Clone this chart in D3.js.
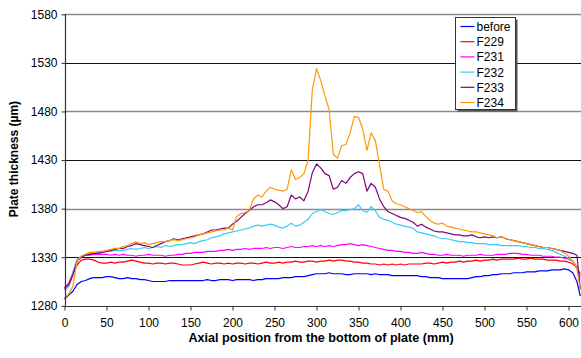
<!DOCTYPE html>
<html>
<head>
<meta charset="utf-8">
<script src="https://cdn.jsdelivr.net/npm/d3@7"></script>
<style>
  html, body { margin: 0; padding: 0; background: #fff; }
  svg { display: block; font-family: Arial, "Liberation Sans", sans-serif; }
</style>
</head>
<body>
<svg id="chart" width="581" height="358"></svg>
<script>
// Axial positions (mm) where the plate thickness was sampled
const positions = [
  0,5,10,15,20,25,30,35,40,45,50,55,60,65,70,75,80,85,90,95,
  100,105,110,115,120,125,130,135,140,145,150,155,160,165,170,175,180,185,190,195,
  200,205,210,215,220,225,230,235,240,245,250,255,260,265,270,275,280,285,290,295,
  300,305,310,315,320,325,330,335,340,345,350,355,360,365,370,375,380,385,390,395,
  400,405,410,415,420,425,430,435,440,445,450,455,460,465,470,475,480,485,490,495,
  500,505,510,515,520,525,530,535,540,545,550,555,560,565,570,575,580,585,590,595,
  600,605,610,614
];

const seriesNames = ["before", "F229", "F231", "F232", "F233", "F234"];
const seriesColors = ["#0000ff", "#ff0000", "#ff00ff", "#33ccff", "#800080", "#ff9900"];

const before = [
  1287,1291,1295,1302,1305,1306,1308,1309,1309,1309,1310,1310,1309,1308,1308,1309,1308,1308,1307,1307,
  1306,1305,1305,1305,1305,1306,1306,1306,1306,1306,1306,1306,1306,1306,1307,1306,1306,1307,1307,1307,
  1306,1307,1307,1307,1307,1306,1307,1307,1308,1308,1308,1308,1309,1309,1309,1310,1310,1310,1311,1312,
  1313,1313,1313,1314,1313,1313,1313,1312,1312,1313,1313,1313,1313,1312,1313,1312,1312,1312,1311,1311,
  1311,1311,1311,1311,1311,1310,1310,1309,1309,1309,1308,1308,1308,1308,1308,1308,1308,1309,1310,1310,
  1311,1311,1312,1312,1313,1313,1313,1314,1314,1314,1315,1315,1315,1316,1316,1316,1317,1317,1317,1318,
  1317,1314,1305,1290
];
const f229 = [
  1298,1303,1314,1322,1327,1328,1328,1327,1325,1324,1324,1325,1324,1325,1325,1326,1327,1326,1325,1324,
  1324,1323,1324,1324,1323,1324,1324,1323,1322,1322,1322,1323,1324,1325,1324,1323,1324,1324,1323,1324,
  1323,1324,1324,1323,1324,1324,1323,1324,1325,1324,1324,1325,1324,1325,1325,1326,1325,1325,1326,1326,
  1325,1326,1326,1327,1326,1327,1327,1326,1326,1325,1325,1324,1324,1323,1323,1322,1323,1322,1323,1322,
  1323,1322,1323,1323,1323,1323,1324,1324,1323,1324,1325,1324,1325,1325,1326,1325,1326,1326,1327,1326,
  1327,1327,1328,1327,1328,1328,1328,1328,1329,1328,1328,1329,1328,1328,1328,1327,1327,1327,1326,1326,
  1325,1323,1319,1313
];
const f231 = [
  1297,1300,1312,1326,1331,1332,1332,1333,1333,1333,1333,1332,1333,1332,1333,1332,1332,1331,1332,1332,
  1333,1332,1332,1332,1331,1332,1332,1333,1333,1334,1334,1335,1335,1335,1336,1336,1336,1337,1337,1338,
  1337,1338,1338,1339,1338,1339,1339,1339,1340,1339,1340,1340,1339,1340,1341,1340,1340,1341,1341,1342,
  1341,1342,1341,1342,1341,1342,1343,1343,1344,1343,1342,1343,1342,1341,1340,1339,1338,1337,1337,1336,
  1336,1335,1335,1334,1334,1335,1334,1333,1333,1332,1332,1333,1332,1332,1332,1331,1332,1332,1332,1333,
  1332,1332,1332,1333,1333,1333,1334,1334,1334,1333,1333,1332,1332,1332,1331,1331,1331,1330,1330,1329,
  1328,1326,1320,1310
];
const f232 = [
  1296,1300,1315,1328,1331,1333,1334,1334,1335,1335,1336,1336,1337,1337,1337,1338,1339,1338,1339,1340,
  1339,1340,1341,1340,1342,1341,1342,1343,1343,1344,1345,1344,1346,1347,1348,1350,1351,1352,1354,1355,
  1356,1357,1358,1359,1360,1362,1363,1362,1363,1364,1363,1361,1360,1362,1365,1362,1363,1366,1369,1375,
  1377,1379,1377,1375,1374,1376,1378,1378,1379,1380,1384,1378,1376,1382,1378,1371,1369,1368,1366,1364,
  1363,1362,1361,1360,1356,1355,1354,1353,1352,1350,1349,1349,1348,1347,1346,1346,1345,1345,1344,1344,
  1344,1343,1343,1343,1342,1342,1342,1342,1342,1341,1341,1340,1340,1339,1339,1338,1337,1335,1333,1331,
  1329,1326,1318,1306
];
const f233 = [
  1299,1302,1312,1326,1330,1332,1333,1334,1334,1335,1336,1337,1338,1339,1339,1341,1342,1344,1343,1342,
  1341,1340,1342,1344,1346,1347,1349,1348,1349,1350,1351,1352,1353,1354,1356,1358,1358,1359,1360,1360,
  1364,1367,1371,1375,1378,1382,1384,1384,1386,1389,1387,1384,1380,1382,1394,1390,1392,1388,1398,1417,
  1426,1422,1416,1414,1400,1402,1409,1406,1412,1416,1418,1416,1398,1406,1402,1390,1382,1377,1375,1373,
  1371,1370,1368,1366,1362,1364,1361,1359,1357,1356,1356,1355,1354,1353,1353,1352,1352,1353,1351,1350,
  1351,1350,1351,1350,1351,1349,1348,1347,1346,1345,1344,1343,1342,1341,1340,1340,1339,1338,1337,1336,
  1335,1334,1332,1297
];
const f234 = [
  1288,1292,1300,1326,1331,1333,1335,1335,1336,1336,1337,1338,1339,1339,1341,1342,1344,1346,1344,1345,
  1343,1344,1345,1346,1346,1347,1348,1347,1348,1349,1350,1351,1353,1354,1355,1356,1357,1358,1358,1360,
  1358,1372,1375,1376,1378,1390,1394,1392,1398,1402,1400,1399,1398,1400,1420,1410,1412,1416,1430,1502,
  1524,1512,1496,1482,1436,1432,1445,1446,1458,1475,1474,1462,1440,1458,1450,1425,1400,1398,1388,1385,
  1384,1382,1380,1378,1376,1377,1372,1368,1365,1364,1365,1362,1361,1360,1359,1358,1357,1356,1356,1355,
  1354,1353,1352,1350,1351,1349,1348,1347,1346,1345,1344,1343,1342,1341,1340,1340,1339,1338,1337,1334,
  1331,1326,1318,1296
];

const yTicks = [1280, 1330, 1380, 1430, 1480, 1530, 1580];
const xTicks = [0, 50, 100, 150, 200, 250, 300, 350, 400, 450, 500, 550, 600];

const allSeries = [before, f229, f231, f232, f233, f234];

const svg = d3.select("#chart");
const plotLeft = 64.5, plotRight = 580.3, plotTop = 14.3, plotBottom = 305.8;

const x = d3.scaleLinear().domain([0, 614]).range([plotLeft, plotRight]);
const y = d3.scaleLinear().domain([1280, 1580]).range([plotBottom, plotTop]);

// horizontal gridlines
svg.append("g").selectAll("line")
  .data(yTicks.slice(1))
  .join("line")
  .attr("x1", plotLeft).attr("x2", plotRight + 1)
  .attr("y1", d => Math.round(y(d)) + 0.5).attr("y2", d => Math.round(y(d)) + 0.5)
  .attr("stroke", (d, i) => i % 2 === 0 ? "#111" : "#8a8a8a")
  .attr("stroke-width", (d, i) => i % 2 === 0 ? 1.2 : 1.6);

// data lines
const line = d3.line()
  .x((d, i) => x(positions[i]))
  .y(d => y(d));

svg.append("g").selectAll("path")
  .data(allSeries)
  .join("path")
  .attr("d", d => line(d))
  .attr("fill", "none")
  .attr("stroke", (d, i) => seriesColors[i])
  .attr("stroke-width", 1.2)
  .attr("stroke-linejoin", "round");

// axes
const yAxis = d3.axisLeft(y).tickValues(yTicks).tickSize(4).tickPadding(4).tickFormat(d3.format("d"));
const xAxis = d3.axisBottom(x).tickValues(xTicks).tickSize(4).tickPadding(8).tickFormat(d3.format("d"));

const gy = svg.append("g").attr("transform", `translate(${Math.round(plotLeft) + 0.5},0)`).call(yAxis);
const gx = svg.append("g").attr("transform", `translate(0,${Math.round(plotBottom) + 0.5})`).call(xAxis);

[gy, gx].forEach(g => {
  g.select(".domain").attr("stroke", "#333").attr("stroke-width", 1.2);
  g.selectAll(".tick line").attr("stroke", "#333");
  g.selectAll(".tick text").attr("fill", "#000").style("font-size", "12px")
    .style("font-family", "Arial, 'Liberation Sans', sans-serif");
});
gx.select(".domain").attr("d", `M${plotLeft},0H${plotRight + 1}`);
gy.select(".domain").attr("d", `M0,${plotTop}V${plotBottom}`);

// axis titles
svg.append("text")
  .attr("x", 321)
  .attr("y", 341.5)
  .attr("text-anchor", "middle")
  .style("font-size", "12.6px").style("font-weight", "bold")
  .text("Axial position from the bottom of plate (mm)");

svg.append("text")
  .attr("transform", `translate(18,${(plotTop + plotBottom) / 2 - 1}) rotate(-90)`)
  .attr("text-anchor", "middle")
  .style("font-size", "12px").style("font-weight", "bold")
  .text("Plate thickness (µm)");

// legend
const lg = svg.append("g").attr("transform", "translate(455.5,17.5)");
lg.append("rect").attr("x", 2).attr("y", 2).attr("width", 60).attr("height", 92).attr("fill", "#555");
lg.append("rect").attr("width", 60).attr("height", 92).attr("fill", "#fff").attr("stroke", "#333").attr("stroke-width", 1);
const items = lg.selectAll("g.item").data(seriesNames).join("g")
  .attr("class", "item")
  .attr("transform", (d, i) => `translate(0,${9 + i * 15.2})`);
items.append("line").attr("x1", 5).attr("x2", 19).attr("y1", 0).attr("y2", 0)
  .attr("stroke", (d, i) => seriesColors[i]).attr("stroke-width", 1.2);
items.append("text").attr("x", 21).attr("y", 4.5)
  .style("font-size", "12px").text(d => d);
</script>
</body>
</html>
